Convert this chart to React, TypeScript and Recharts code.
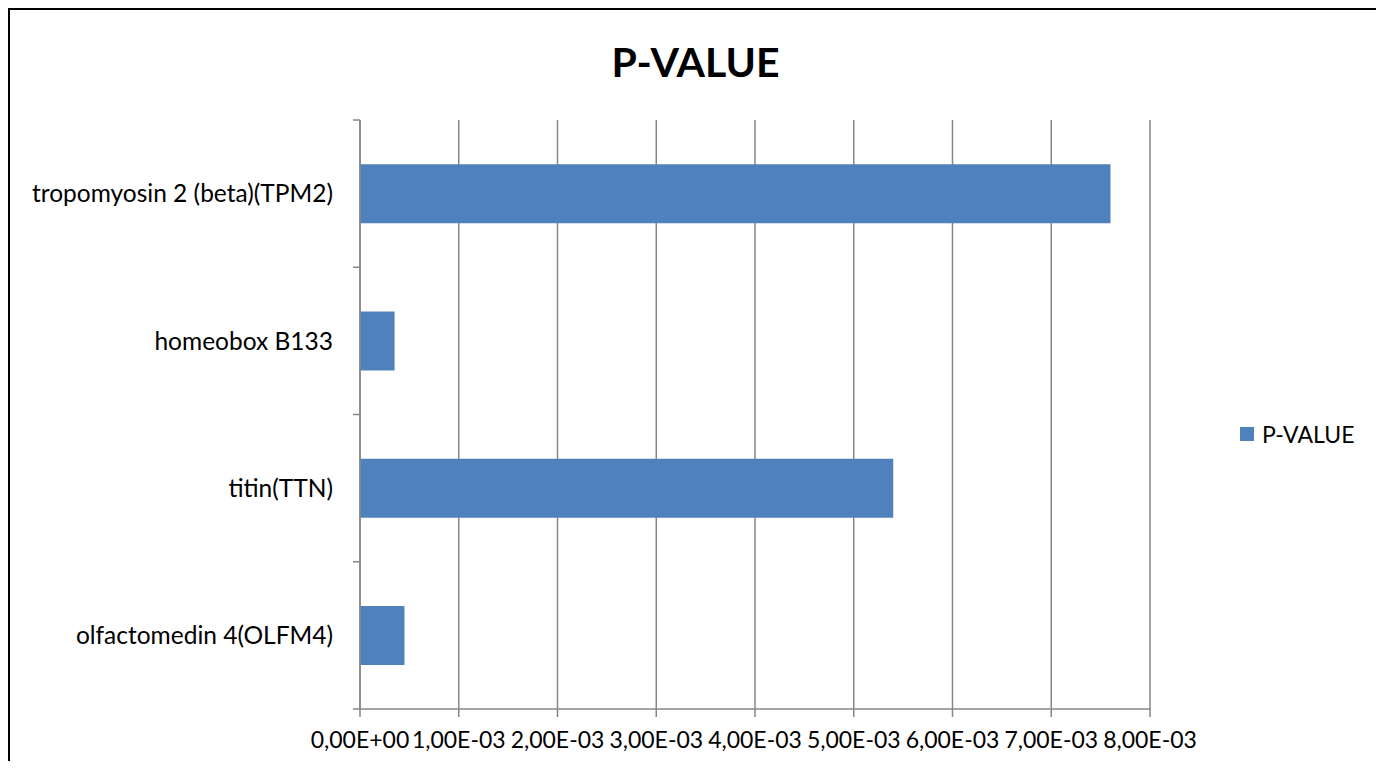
import React from "react";
import { BarChart, Bar, XAxis, YAxis, CartesianGrid, Legend } from "recharts";

const genes = [
  "tropomyosin 2 (beta)(TPM2)",
  "homeobox B133",
  "titin(TTN)",
  "olfactomedin 4(OLFM4)",
];
const pValues = [0.0076, 0.00035, 0.0054, 0.00045];

const xTicks = [0, 0.001, 0.002, 0.003, 0.004, 0.005, 0.006, 0.007, 0.008];
const xTickLabels = [
  "0,00E+00",
  "1,00E-03",
  "2,00E-03",
  "3,00E-03",
  "4,00E-03",
  "5,00E-03",
  "6,00E-03",
  "7,00E-03",
  "8,00E-03",
];

const rows = genes.map((gene, i) => ({ gene, value: pValues[i] }));

const FONT = "Lato, 'Open Sans', sans-serif";
const GRID = "#878787";
const BAR = "#4F81BD";

// category label plus the small marks between categories (Excel style)
function GeneTick(props: any) {
  const { x, y, payload, index, visibleTicksCount } = props;
  const half = payload.offset ?? 0;
  const axisX = x + 27;
  return (
    <g>
      <line x1={axisX - 7} x2={axisX} y1={y - half} y2={y - half} stroke={GRID} strokeWidth={1.5} />
      {index === visibleTicksCount - 1 && (
        <line x1={axisX - 7} x2={axisX} y1={y + half} y2={y + half} stroke={GRID} strokeWidth={1.5} />
      )}
      <text x={x} y={y} dy="0.355em" textAnchor="end" fill="#000" fontFamily={FONT} fontSize={24.5}>
        {payload.value}
      </text>
    </g>
  );
}

function LegendBox() {
  return (
    <div style={{ display: "flex", alignItems: "center", fontFamily: FONT, fontSize: 23, color: "#000" }}>
      <span style={{ width: 14, height: 14, background: BAR, display: "inline-block", marginRight: 8 }} />
      <span>P-VALUE</span>
    </div>
  );
}

export default function App() {
  return (
    <div style={{ width: 1375, height: 761, marginBottom: -8, overflow: "hidden" }}>
      <div
        style={{
          position: "relative",
          width: 1375,
          height: 800,
          border: "2px solid #000",
          boxSizing: "border-box",
          background: "#fff",
        }}
      >
        <div
          style={{
            position: "absolute",
            left: 0,
            right: 0,
            top: 27,
            textAlign: "center",
            fontFamily: FONT,
            fontWeight: 700,
            fontSize: 41,
            color: "#000",
          }}
        >
          P-VALUE
        </div>
        <BarChart
          width={1371}
          height={780}
          data={rows}
          layout="vertical"
          margin={{ top: 110, right: 231, bottom: 21, left: 0 }}
          barCategoryGap="30%"
        >
          <CartesianGrid horizontal={false} stroke={GRID} strokeWidth={1.5} />
          <YAxis
            type="category"
            dataKey="gene"
            width={350}
            tickLine={false}
            tickSize={0}
            tickMargin={27}
            interval={0}
            axisLine={{ stroke: GRID, strokeWidth: 1.5 }}
            tick={<GeneTick />}
          />
          <XAxis
            type="number"
            domain={[0, 0.008]}
            ticks={xTicks}
            tickFormatter={(_v: number, i: number) => xTickLabels[i]}
            interval={0}
            height={60}
            axisLine={{ stroke: GRID, strokeWidth: 1.5 }}
            tickLine={{ stroke: GRID, strokeWidth: 1.5 }}
            tickSize={8}
            tickMargin={15}
            tick={{ fill: "#000", fontFamily: FONT, fontSize: 23 }}
          />
          <Legend
            layout="vertical"
            align="center"
            verticalAlign="middle"
            wrapperStyle={{ left: 1230, top: 410, width: 145 }}
            content={() => <LegendBox />}
          />
          <Bar dataKey="value" name="P-VALUE" fill={BAR} isAnimationActive={false} />
        </BarChart>
      </div>
    </div>
  );
}
